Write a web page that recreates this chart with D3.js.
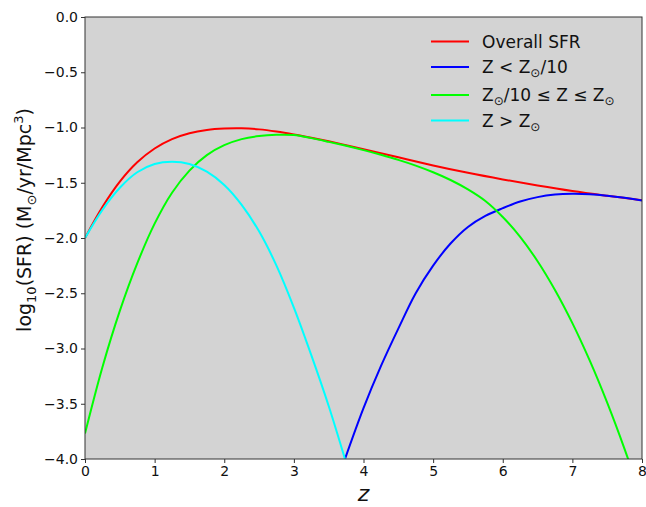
<!DOCTYPE html>
<html><head><meta charset="utf-8">
<script src="https://cdn.jsdelivr.net/npm/d3@7"></script>
<style>body{margin:0;background:#fff}svg{display:block}text{font-family:"DejaVu Sans",sans-serif;fill:#111}</style>
</head><body><svg id="c" width="646" height="507"></svg>
<script>
// redshift grids and log10(SFR) values
const zOverall = [0,0.25,0.5,0.75,1.0,1.25,1.5,1.75,2.0,2.25,2.5,2.75,3.0,3.25,3.5,3.75,4.0,4.5,5.0,5.5,6.0,6.5,7.0,7.5,8.0];
const sfrOverall = [-2.0,-1.72,-1.49,-1.315,-1.19,-1.105,-1.052,-1.022,-1.009,-1.007,-1.017,-1.037,-1.063,-1.093,-1.125,-1.16,-1.196,-1.27,-1.343,-1.41,-1.47,-1.525,-1.575,-1.618,-1.658];

const zLow = [3.734,4.0,4.25,4.5,4.75,5.0,5.25,5.5,5.75,6.0,6.25,6.5,6.75,7.0,7.25,7.5,7.75,8.0];
const sfrLow = [-4.0,-3.54,-3.16,-2.82,-2.50,-2.25,-2.05,-1.90,-1.80,-1.73,-1.67,-1.63,-1.607,-1.600,-1.604,-1.617,-1.636,-1.66];

const zMid = [0,0.25,0.5,0.75,1.0,1.25,1.5,1.75,2.0,2.25,2.5,2.75,3.0,3.25,3.5,3.75,4.0,4.25,4.5,4.75,5.0,5.25,5.5,5.75,6.0,6.25,6.5,6.75,7.0,7.25,7.5,7.75,8.0];
const sfrMid = [-3.77,-3.17,-2.66,-2.23,-1.87,-1.59,-1.39,-1.25,-1.16,-1.105,-1.077,-1.066,-1.068,-1.096,-1.13,-1.166,-1.205,-1.247,-1.293,-1.345,-1.405,-1.475,-1.56,-1.665,-1.81,-1.99,-2.21,-2.47,-2.77,-3.11,-3.49,-3.91,-4.37];

const zHigh = [0,0.25,0.5,0.75,1.0,1.25,1.5,1.75,2.0,2.25,2.5,2.75,3.0,3.25,3.5,3.734];
const sfrHigh = [-2.0,-1.745,-1.545,-1.405,-1.33,-1.31,-1.33,-1.40,-1.52,-1.70,-1.94,-2.25,-2.63,-3.06,-3.52,-4.0];

const seriesNames = ["Overall SFR","Z < Z⊙/10","Z⊙/10 ≤ Z ≤ Z⊙","Z > Z⊙"];
const seriesColors = ["#ff0000","#0000ff","#00ff00","#00ffff"];
const xTicks = [0,1,2,3,4,5,6,7,8];
const yTicks = [0,-0.5,-1,-1.5,-2,-2.5,-3,-3.5,-4];

const svg = d3.select("#c");
const L=85, R=642, T=17, B=459;
const x = d3.scaleLinear().domain([0,8]).range([L,R]);
const y = d3.scaleLinear().domain([-4,0]).range([B,T]);

svg.append("defs").append("clipPath").attr("id","clip").append("rect")
  .attr("x",L).attr("y",T).attr("width",R-L).attr("height",B-T);
svg.append("rect").attr("x",L).attr("y",T).attr("width",R-L).attr("height",B-T).attr("fill","#d3d3d3");

const data = [
  zOverall.map((z,i)=>[z,sfrOverall[i]]),
  zLow.map((z,i)=>[z,sfrLow[i]]),
  zMid.map((z,i)=>[z,sfrMid[i]]),
  zHigh.map((z,i)=>[z,sfrHigh[i]])
];
const line = d3.line().x(d=>x(d[0])).y(d=>y(d[1])).curve(d3.curveCatmullRom.alpha(0.5));
const g = svg.append("g").attr("clip-path","url(#clip)");
data.forEach((d,i)=>{
  g.append("path").attr("d",line(d)).attr("fill","none").attr("stroke",seriesColors[i]).attr("stroke-width",2);
});

const fmt = v => (v===0?"0.0":d3.format(".1f")(v)).replace("-","\u2212");
const xa = svg.append("g").attr("transform",`translate(0,${B})`)
  .call(d3.axisBottom(x).tickValues(xTicks).tickFormat(d3.format("d")).tickSize(4).tickPadding(3));
const ya = svg.append("g").attr("transform",`translate(${L},0)`)
  .call(d3.axisLeft(y).tickValues(yTicks).tickFormat(fmt).tickSize(4).tickPadding(3));
[xa,ya].forEach(a=>{
  a.selectAll("text").attr("font-size",14).attr("font-family","DejaVu Sans").attr("fill","#111");
  a.selectAll("line").attr("stroke","#333");
  a.select(".domain").remove();
});
svg.append("rect").attr("x",L).attr("y",T).attr("width",R-L).attr("height",B-T)
  .attr("fill","none").attr("stroke","#333").attr("stroke-width",1);

// axis labels
svg.append("text").attr("x",(L+R)/2).attr("y",501).attr("text-anchor","middle")
  .attr("font-size",22).attr("font-style","italic").text("z");
const yl = svg.append("text").attr("transform",`translate(31,220) rotate(-90)`)
  .attr("text-anchor","middle").attr("font-size",19);
yl.append("tspan").text("log");
yl.append("tspan").attr("font-size",13).attr("dy",5).text("10");
yl.append("tspan").attr("dy",-5).text("(SFR) (M");
yl.append("tspan").attr("font-size",13).attr("dy",5).text("⊙");
yl.append("tspan").attr("dy",-5).text("/yr/Mpc");
yl.append("tspan").attr("font-size",13).attr("dy",-8).text("3");
yl.append("tspan").attr("dy",8).text(")");

// legend
const legY = [41.5,67,95,120.5];
const parts = [
  [["Overall SFR",0]],
  [["Z < Z",0],["⊙",1],["/10",0]],
  [["Z",0],["⊙",1],["/10 ≤ Z ≤ Z",0],["⊙",1]],
  [["Z > Z",0],["⊙",1]]
];
seriesNames.forEach((n,i)=>{
  svg.append("line").attr("x1",431).attr("x2",469).attr("y1",legY[i]).attr("y2",legY[i])
    .attr("stroke",seriesColors[i]).attr("stroke-width",2);
  const t = svg.append("text").attr("x",482).attr("y",legY[i]+6).attr("font-size",17);
  let sub=false;
  parts[i].forEach(([s,isSub])=>{
    const ts = t.append("tspan").text(s);
    if(isSub && !sub){ts.attr("font-size",12).attr("dy",4); sub=true;}
    else if(!isSub && sub){ts.attr("dy",-4); sub=false;}
  });
});
</script></body></html>
